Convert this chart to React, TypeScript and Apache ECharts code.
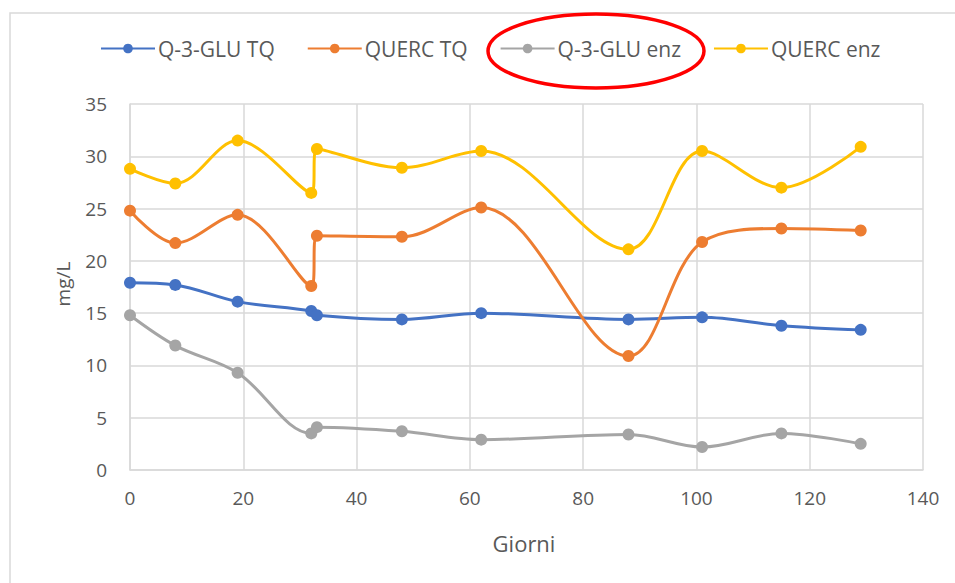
import React, { useEffect, useRef } from "react";
import * as echarts from "echarts";

const days = [0, 8, 19, 32, 33, 48, 62, 88, 101, 115, 129];
const seriesNames = ["Q-3-GLU TQ", "QUERC TQ", "Q-3-GLU enz", "QUERC enz"];
const glu3TQ = [17.9, 17.7, 16.1, 15.2, 14.8, 14.4, 15.0, 14.4, 14.6, 13.8, 13.4];
const quercTQ = [24.8, 21.7, 24.4, 17.6, 22.4, 22.3, 25.1, 10.9, 21.8, 23.1, 22.9];
const glu3Enz = [14.8, 11.9, 9.3, 3.5, 4.1, 3.7, 2.9, 3.4, 2.2, 3.5, 2.5];
const quercEnz = [28.8, 27.4, 31.5, 26.5, 30.7, 28.9, 30.5, 21.1, 30.5, 27.0, 30.9];
const colors = ["#4472C4", "#ED7D31", "#A5A5A5", "#FFC000"];
const xTicks = { min: 0, max: 140, interval: 20 };
const yTicks = { min: 0, max: 35, interval: 5 };
const xTitle = "Giorni";
const yTitle = "mg/L";

const FONT = "'Open Sans', sans-serif";
const LABEL_COLOR = "#595959";
const GRID_COLOR = "#D9D9D9";

export default function App() {
  const ref = useRef<HTMLDivElement>(null);
  useEffect(() => {
    if (!ref.current) return;
    const chart = echarts.init(ref.current, undefined, { renderer: "svg" });
    const allValues = [glu3TQ, quercTQ, glu3Enz, quercEnz];
    chart.setOption({
      animation: false,
      backgroundColor: "#ffffff",
      color: colors,
      textStyle: { fontFamily: FONT },
      legend: {
        left: 95,
        top: 33,
        itemWidth: 54,
        itemHeight: 12,
        itemGap: 32,
        textStyle: { fontSize: 21, color: LABEL_COLOR, fontFamily: FONT, padding: [0, 0, 0, -2] },
        data: seriesNames,
      },
      grid: { left: 130, top: 104, right: 32, bottom: 113 },
      xAxis: {
        type: "value",
        min: xTicks.min,
        max: xTicks.max,
        interval: xTicks.interval,
        axisLine: { show: true, lineStyle: { color: GRID_COLOR, width: 1.5 } },
        axisTick: { show: false },
        splitLine: { show: true, lineStyle: { color: GRID_COLOR, width: 1.5 } },
        axisLabel: { color: LABEL_COLOR, fontSize: 19, margin: 18, fontFamily: FONT },
      },
      yAxis: {
        type: "value",
        min: yTicks.min,
        max: yTicks.max,
        interval: yTicks.interval,
        axisLine: { show: true, lineStyle: { color: GRID_COLOR, width: 1.5 } },
        axisTick: { show: false },
        splitLine: { show: true, lineStyle: { color: GRID_COLOR, width: 1.5 } },
        axisLabel: { color: LABEL_COLOR, fontSize: 19, margin: 23, fontFamily: FONT },
      },
      series: seriesNames.map((name, i) => ({
        name,
        type: "line",
        smooth: 0.35,
        symbol: "circle",
        symbolSize: 12,
        lineStyle: { width: 3, color: colors[i] },
        itemStyle: { color: colors[i] },
        data: days.map((d, j) => [d, allValues[i][j]]),
        z: 2 + i,
      })),
      graphic: [
        {
          type: "rect",
          shape: { x: 10, y: 13, width: 1000, height: 700 },
          style: { fill: "none", stroke: GRID_COLOR, lineWidth: 1.5 },
          silent: true,
          z: -1,
        },
        {
          type: "text",
          x: 524,
          y: 543,
          style: { text: xTitle, fontSize: 22, fill: LABEL_COLOR, fontFamily: FONT, align: "center", verticalAlign: "middle" },
        },
        {
          type: "text",
          x: 63,
          y: 284,
          rotation: Math.PI / 2,
          style: { text: yTitle, fontSize: 19, fill: LABEL_COLOR, fontFamily: FONT, align: "center", verticalAlign: "middle" },
        },
        {
          type: "ellipse",
          shape: { cx: 596, cy: 51, rx: 108, ry: 37 },
          style: { fill: "none", stroke: "#FF0000", lineWidth: 3.5 },
          z: 100,
        },
      ],
    });
    return () => chart.dispose();
  }, []);
  return (
    <div
      ref={ref}
      style={{ position: "fixed", left: 0, top: 0, width: 955, height: 583 }}
    />
  );
}
